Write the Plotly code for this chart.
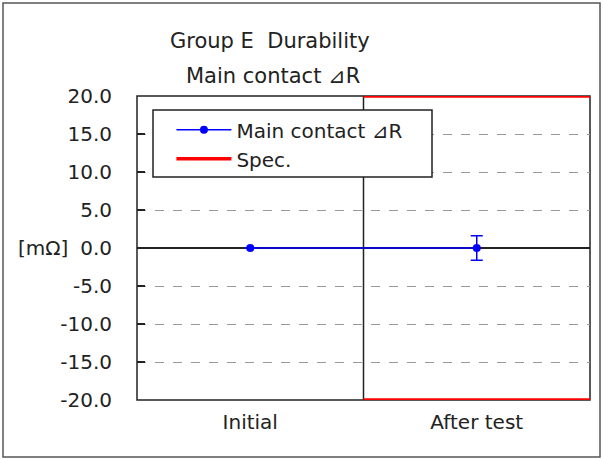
import plotly.graph_objects as go

categories = ["Initial", "After test"]
cat_pos = [0, 1]
delta_r = [0.0, 0.0]
delta_r_err = [0.0, 1.6]
spec_x = [0.5, 1.5]
spec_upper = [20.0, 20.0]
spec_lower = [-20.0, -20.0]
y_ticks = [-20, -15, -10, -5, 0, 5, 10, 15, 20]
y_ticktext = ["-20.0", "-15.0", "-10.0", "-5.0", "0.0", "5.0", "10.0", "15.0", "20.0"]

FONT = "DejaVu Sans"
TXT = "#222222"
fig = go.Figure()

fig.add_trace(go.Scatter(
    x=cat_pos, y=delta_r, mode="lines+markers", name="Main contact ⊿R",
    line=dict(color="#0000ff", width=1.5),
    marker=dict(color="#0000ff", size=8, symbol="circle"),
    error_y=dict(type="data", array=delta_r_err, visible=True, color="#0000ff",
                 thickness=1.5, width=6),
))
fig.add_trace(go.Scatter(
    x=spec_x, y=spec_upper, mode="lines", name="Spec.", cliponaxis=False,
    line=dict(color="#ff0000", width=3.5),
))
fig.add_trace(go.Scatter(
    x=spec_x, y=spec_lower, mode="lines", name="Spec.", showlegend=False,
    cliponaxis=False, line=dict(color="#ff0000", width=3.5),
))

fig.update_layout(
    width=604, height=459,
    margin=dict(l=137, r=14, t=96, b=59),
    paper_bgcolor="white", plot_bgcolor="white",
    font=dict(family=FONT, size=20, color=TXT),
    showlegend=True,
    legend=dict(x=0.076, y=0.953, xanchor="left", yanchor="top",
                bgcolor="rgba(0,0,0,0)", borderwidth=0,
                font=dict(family=FONT, size=20, color=TXT),
                itemwidth=55, tracegroupgap=0),
    xaxis=dict(range=[-0.5, 1.5], tickvals=cat_pos, ticktext=categories,
               showgrid=False, zeroline=False, showline=False,
               ticks="", ticklen=0, ticklabelstandoff=8,
               tickfont=dict(size=20), fixedrange=True),
    yaxis=dict(range=[-20, 20], tickvals=y_ticks, ticktext=y_ticktext,
               showgrid=True, gridcolor="#999999", griddash="dash", gridwidth=1.2,
               zeroline=True, zerolinecolor=TXT, zerolinewidth=1.5,
               showline=False, layer="below traces",
               ticks="inside", ticklen=8, tickcolor=TXT, tickwidth=1.5,
               ticklabelstandoff=24, tickfont=dict(size=20), fixedrange=True),
    shapes=[
        dict(type="rect", xref="paper", yref="paper", x0=0, x1=1, y0=0, y1=1,
             line=dict(color=TXT, width=1.5), layer="below"),
        dict(type="line", xref="x", yref="paper", x0=0.5, x1=0.5, y0=0, y1=1,
             line=dict(color=TXT, width=1.5), layer="below"),
        dict(type="rect", xref="paper", yref="paper",
             x0=(153 - 137) / 453, x1=(432 - 137) / 453,
             y0=(400 - 177) / 304, y1=(400 - 110) / 304,
             fillcolor="white", line=dict(color=TXT, width=1.5), layer="above"),
        dict(type="rect", xref="paper", yref="paper",
             x0=(3 - 137) / 453, x1=(600 - 137) / 453,
             y0=(400 - 457) / 304, y1=(400 - 3) / 304,
             line=dict(color="#555555", width=1.5)),
    ],
    annotations=[
        dict(text="Group E\u00a0\u00a0Durability", xref="paper", yref="paper",
             x=(270 - 137) / 453, y=(400 - 41) / 304, xanchor="center", yanchor="middle",
             showarrow=False, font=dict(family=FONT, size=21, color=TXT)),
        dict(text="Main contact ⊿R", xref="paper", yref="paper",
             x=(273 - 137) / 453, y=(400 - 76) / 304, xanchor="center", yanchor="middle",
             showarrow=False, font=dict(family=FONT, size=21, color=TXT)),
        dict(text="[mΩ]", xref="paper", yref="y", x=(70 - 137) / 453, y=0,
             xanchor="right", yanchor="middle", showarrow=False,
             font=dict(family=FONT, size=20, color=TXT)),
    ],
)
fig.write_html("out.html", post_script="document.body.style.margin='0';",
               config={"displayModeBar": False})
